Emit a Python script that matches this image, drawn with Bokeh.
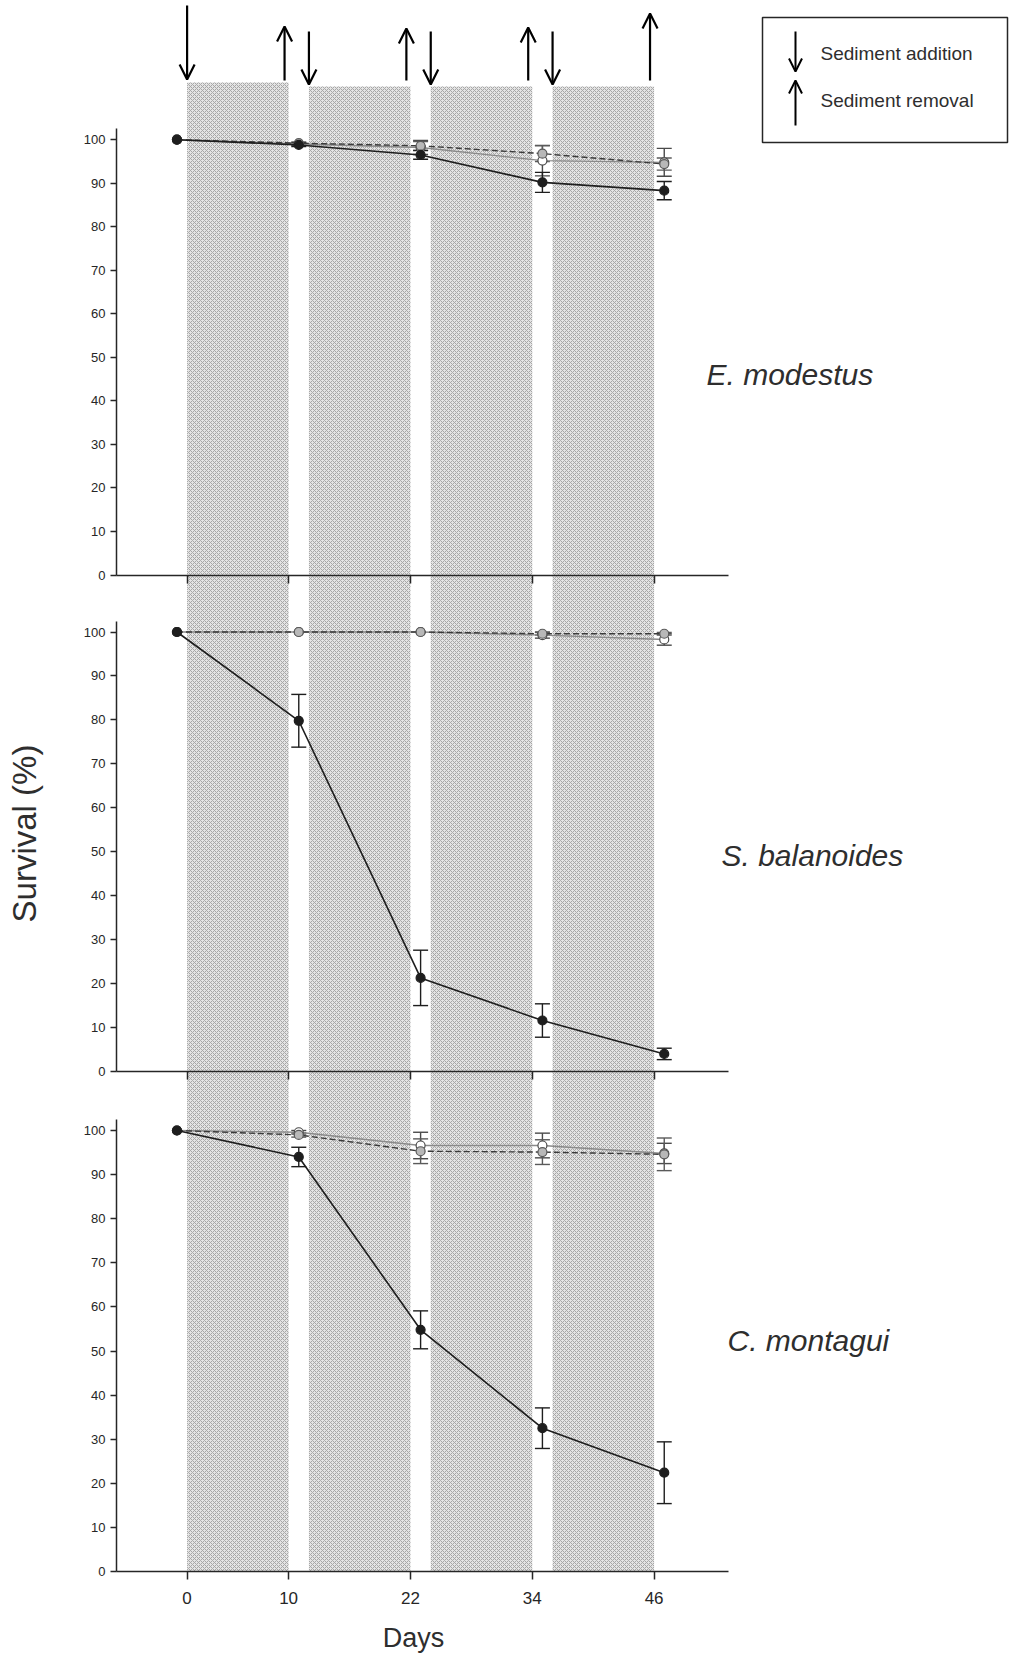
import math

from bokeh.plotting import figure
from bokeh.models import (ColumnDataSource, Whisker, TeeHead, Arrow, OpenHead,
                          Range1d, FixedTicker, LinearAxis)
from bokeh.core.properties import value
from bokeh.embed import file_html
from bokeh.resources import INLINE

# ---- data -------------------------------------------------------------
sample_days = [-1, 11, 23, 35, 47]
tick_days = [0, 10, 22, 34, 46]
addition_days = [0, 12, 24, 36]
removal_days = [10, 22, 34, 46]

species = ["E. modestus", "S. balanoides", "C. montagui"]

# sediment-treated animals (solid line, black markers)
sediment_mean = [
    [100, 98.8, 96.5, 90.2, 88.3],
    [100, 79.8, 21.3, 11.6, 4.0],
    [100, 94.0, 54.8, 32.5, 22.4],
]
sediment_se = [
    [0, 0.4, 1.0, 2.3, 2.1],
    [0, 6.0, 6.3, 3.8, 1.3],
    [0, 2.2, 4.3, 4.6, 7.0],
]

# procedural control (dashed line, grey markers)
procedural_mean = [
    [100, 99.2, 98.6, 96.8, 94.4],
    [100, 100, 100, 99.6, 99.6],
    [100, 99.0, 95.3, 95.1, 94.6],
]
procedural_se = [
    [0, 0.3, 1.0, 1.8, 1.4],
    [0, 0, 0, 0.3, 0.3],
    [0, 0.5, 2.8, 2.8, 3.7],
]

# untouched control (grey line, open markers)
control_mean = [
    [100, 99.0, 98.2, 95.2, 94.8],
    [100, 100, 100, 99.3, 98.3],
    [100, 99.6, 96.6, 96.6, 94.8],
]
control_se = [
    [0, 0.3, 1.6, 3.5, 3.2],
    [0, 0, 0, 0.7, 1.3],
    [0, 0.4, 3.0, 2.8, 2.3],
]

y_ticks = list(range(0, 101, 10))

# ---- layout constants (page pixels) -----------------------------------
FONT = "Liberation Sans"
INK = "#262626"
TEXT = "#2e2e2e"
PAGE_W, PAGE_H = 1012, 1653
AXIS_PX = 116            # pixel column of the y-axes
DAY0_PX = 186.6          # pixel column of day 0
PX_PER_DAY = 10.152
AXIS_END_DAY = 53.3      # right end of the x-axis lines

# pixel rows of 100 % and 0 % for each stacked panel
PANELS = [(139.2, 574.5), (631.5, 1071.0), (1130.0, 1571.0)]
RANGE_NAMES = ["default", "p2", "p3"]


def x_at(px):
    return (px - DAY0_PX) / PX_PER_DAY


def y_at(k, py):
    y100, y0 = PANELS[k]
    ppu = (y0 - y100) / 100.0
    return 100 - (py - y100) / ppu


y_axis_day = x_at(AXIS_PX)

p = figure(frame_width=PAGE_W, frame_height=PAGE_H,
           x_range=Range1d(x_at(0), x_at(PAGE_W)),
           y_range=Range1d(y_at(0, PAGE_H), y_at(0, 0)),
           x_axis_location=None, y_axis_location=None,
           output_backend="svg", toolbar_location=None, min_border=0,
           background_fill_color="white", border_fill_color="white",
           outline_line_color=None)
p.grid.visible = False
p.extra_y_ranges = {RANGE_NAMES[k]: Range1d(y_at(k, PAGE_H), y_at(k, 0))
                    for k in (1, 2)}

# sediment-burial periods, running through all three panels
band_top_px = [82, 86, 86, 86]
p.quad(left=addition_days, right=removal_days,
       bottom=[y_at(0, PANELS[2][1])] * len(addition_days),
       top=[y_at(0, t) for t in band_top_px],
       fill_color="#e4e4e4", line_color=None,
       hatch_pattern="diagonal_cross", hatch_color="#a6a6a6",
       hatch_scale=4, hatch_weight=1.0)


def style_axis(ax, size):
    ax.axis_line_color = INK
    ax.axis_line_width = 1.5
    ax.major_tick_line_color = INK
    ax.major_tick_line_width = 1.5
    ax.minor_tick_line_color = None
    ax.major_tick_in = 0
    ax.major_label_text_font = FONT
    ax.major_label_text_font_size = size
    ax.major_label_text_color = "#262626"


def add_series(rn, mean, se, line_color, line_dash, marker_fill, marker_line,
               line_width=1.4):
    src = ColumnDataSource(dict(x=sample_days, y=mean))
    p.line("x", "y", source=src, line_color=line_color, line_width=line_width,
           line_dash=line_dash, y_range_name=rn)
    keep = [i for i, e in enumerate(se) if e > 0]
    err = ColumnDataSource(dict(
        x=[sample_days[i] for i in keep],
        upper=[mean[i] + se[i] for i in keep],
        lower=[mean[i] - se[i] for i in keep],
    ))
    p.add_layout(Whisker(
        source=err, base="x", upper="upper", lower="lower", dimension="height",
        y_range_name=rn, line_color=marker_line, line_width=1.4,
        upper_head=TeeHead(size=15, line_color=marker_line, line_width=1.4),
        lower_head=TeeHead(size=15, line_color=marker_line, line_width=1.4),
    ))
    p.scatter("x", "y", source=src, size=9, fill_color=marker_fill,
              line_color=marker_line, line_width=1.2, y_range_name=rn)


def arrow(x, y0, y1, size=15, width=2.2):
    p.add_layout(Arrow(end=OpenHead(size=size, line_width=width, line_color="black"),
                       line_width=width, line_color="black",
                       x_start=x, y_start=y0, x_end=x, y_end=y1))


def text(x, y, s, size, rn="default", **kw):
    p.text(x=[x], y=[y], text=[s], text_font=value(FONT),
           text_font_size=size, text_color=TEXT, y_range_name=rn, **kw)


label_px = [(706, 374), (721, 855), (727, 1340)]
for k, rn in enumerate(RANGE_NAMES):
    last = k == len(RANGE_NAMES) - 1

    xa = LinearAxis(y_range_name=rn, fixed_location=0,
                    ticker=FixedTicker(ticks=tick_days),
                    bounds=(y_axis_day, AXIS_END_DAY))
    style_axis(xa, "17px")
    xa.major_tick_out = 8
    if last:
        xa.major_label_standoff = 12
    else:
        xa.major_label_text_color = None
    p.add_layout(xa, "below")

    ya = LinearAxis(y_range_name=rn, fixed_location=y_axis_day,
                    ticker=FixedTicker(ticks=y_ticks), bounds=(0, 102.5))
    style_axis(ya, "13px")
    ya.major_tick_out = 6
    ya.major_label_standoff = 5
    p.add_layout(ya, "left")

    add_series(rn, control_mean[k], control_se[k], "#8a8a8a", "solid",
               "white", "#4a4a4a")
    add_series(rn, procedural_mean[k], procedural_se[k], "#3a3a3a", "6 3",
               "#b8b8b8", "#5a5a5a")
    add_series(rn, sediment_mean[k], sediment_se[k], "#1e1e1e", "solid",
               "#1e1e1e", "#1e1e1e", line_width=1.6)

    lx, ly = label_px[k]
    text(x_at(lx), y_at(k, ly), species[k], "30px", rn=rn,
         text_font_style="italic", text_align="left", text_baseline="middle")

# addition / removal arrows above the top panel
add_tops = [5, 31, 31, 31]
add_bottoms = [79, 84, 84, 84]
for d, t, b in zip(addition_days, add_tops, add_bottoms):
    arrow(d, y_at(0, t), y_at(0, b))
rem_tops = [26, 28, 27, 13]
for d, t in zip(removal_days, rem_tops):
    arrow(d - 0.4, y_at(0, 80), y_at(0, t))

# key to the arrows
p.quad(left=[x_at(762)], right=[x_at(1007)], top=[y_at(0, 17)],
       bottom=[y_at(0, 142)], fill_alpha=0, line_color=INK, line_width=1.5)
key_x = x_at(795)
arrow(key_x, y_at(0, 31), y_at(0, 71), size=13, width=2)
arrow(key_x, y_at(0, 125), y_at(0, 80), size=13, width=2)
text(x_at(820), y_at(0, 53), "Sediment addition", "19px",
     text_align="left", text_baseline="middle")
text(x_at(820), y_at(0, 100), "Sediment removal", "19px",
     text_align="left", text_baseline="middle")

# shared axis titles
text(x_at(24), y_at(1, 833), "Survival (%)", "33px", rn="p2",
     angle=math.pi / 2, text_align="center", text_baseline="middle")
text(x_at(413), y_at(2, 1637), "Days", "27px", rn="p3",
     text_align="center", text_baseline="middle")

open("out.html", "w").write(file_html(p, INLINE))
